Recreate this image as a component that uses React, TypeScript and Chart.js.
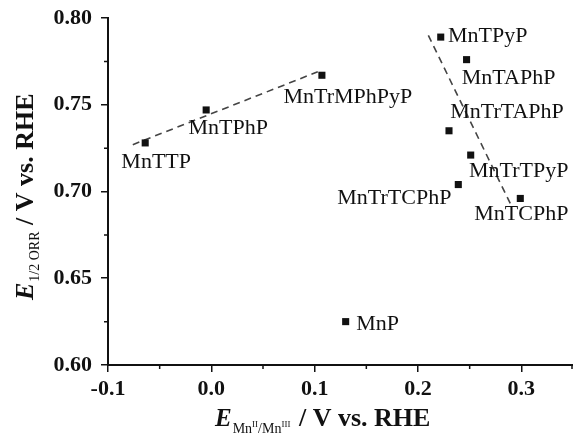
import React, { useEffect, useRef } from 'react';
import { Chart, registerables } from 'chart.js';
Chart.register(...registerables);

// ---- data ----
const compounds = ['MnTTP', 'MnTPhP', 'MnTrMPhPyP', 'MnTPyP', 'MnTAPhP', 'MnTrTAPhP', 'MnTrTPyP', 'MnTrTCPhP', 'MnTCPhP', 'MnP'];
const eMnRedox = [-0.064, -0.005, 0.107, 0.222, 0.247, 0.230, 0.251, 0.239, 0.299, 0.130];
const eHalfOrr = [0.728, 0.747, 0.767, 0.789, 0.776, 0.735, 0.721, 0.704, 0.696, 0.625];
const trend1X = [-0.076, 0.103];
const trend1Y = [0.727, 0.769];
const trend2X = [0.210, 0.291];
const trend2Y = [0.790, 0.691];
const xMajorTicks = [-0.1, 0.0, 0.1, 0.2, 0.3];
const yMajorTicks = [0.6, 0.65, 0.7, 0.75, 0.8];
const xMinorTicks = [-0.05, 0.05, 0.15, 0.25, 0.35];
const yMinorTicks = [0.625, 0.675, 0.725, 0.775];

// label placement (pixel offsets of label centre from its point)
const labelOffsets: [number, number][] = [
  [11, 19], [22, 18], [26, 22], [47, -1], [42, 19], [58, -19], [48, 16], [-64, 14], [1, 16], [32, 3],
];

const SERIF = '"Liberation Serif", "Times New Roman", serif';

const labelPlugin = {
  id: 'pointLabels',
  afterDatasetsDraw(chart: any) {
    const ctx = chart.ctx;
    const meta = chart.getDatasetMeta(0);
    ctx.save();
    ctx.font = `22px ${SERIF}`;
    ctx.fillStyle = '#111';
    ctx.textAlign = 'center';
    ctx.textBaseline = 'middle';
    meta.data.forEach((el: any, i: number) => {
      const [dx, dy] = labelOffsets[i];
      ctx.fillText(compounds[i], el.x + dx, el.y + dy);
    });
    ctx.restore();
  },
};

const minorTickPlugin = {
  id: 'minorTicks',
  afterDraw(chart: any) {
    const ctx = chart.ctx;
    const xs = chart.scales.x;
    const ys = chart.scales.y;
    ctx.save();
    ctx.strokeStyle = '#111';
    ctx.lineWidth = 1.5;
    ctx.beginPath();
    xMinorTicks.forEach((v) => {
      const px = Math.min(xs.getPixelForValue(v), 572);
      ctx.moveTo(px, xs.top);
      ctx.lineTo(px, xs.top + 4);
    });
    yMinorTicks.forEach((v) => {
      const py = ys.getPixelForValue(v);
      ctx.moveTo(ys.right, py);
      ctx.lineTo(ys.right - 4, py);
    });
    ctx.stroke();
    ctx.restore();
  },
};

const titlePlugin = {
  id: 'axisTitles',
  afterDraw(chart: any) {
    const ctx = chart.ctx;
    ctx.save();
    ctx.fillStyle = '#111';
    ctx.textBaseline = 'alphabetic';
    ctx.textAlign = 'left';
    // x title
    let x = 215;
    const yb = 426;
    ctx.font = `italic bold 25px ${SERIF}`;
    ctx.fillText('E', x, yb);
    x += ctx.measureText('E').width + 1;
    const sub = (t: string, size: number, dy: number) => {
      ctx.font = `${size}px ${SERIF}`;
      ctx.fillText(t, x, yb + dy);
      x += ctx.measureText(t).width;
    };
    sub('Mn', 14, 7);
    sub('II', 9, 1);
    sub('/Mn', 14, 7);
    sub('III', 9, 1);
    x += 2;
    ctx.font = `bold 26px ${SERIF}`;
    ctx.fillText(' / V vs. RHE', x, yb);

    // y title (rotated)
    ctx.save();
    ctx.translate(33, 300);
    ctx.rotate(-Math.PI / 2);
    let t = 0;
    ctx.font = `italic bold 26px ${SERIF}`;
    ctx.fillText('E', t, 0);
    t += ctx.measureText('E').width + 1;
    ctx.font = `14px ${SERIF}`;
    ctx.fillText('1/2 ORR', t, 6);
    t += ctx.measureText('1/2 ORR').width;
    ctx.font = `bold 26px ${SERIF}`;
    ctx.fillText(' / V vs. RHE', t, 0);
    ctx.restore();
    ctx.restore();
  },
};

export default function App() {
  const ref = useRef<HTMLCanvasElement>(null);
  useEffect(() => {
    document.body.style.margin = '0';
    const canvas = ref.current!;
    const chart = new Chart(canvas, {
      type: 'scatter',
      data: {
        datasets: [
          {
            label: 'complexes',
            data: eMnRedox.map((v, i) => ({ x: v, y: eHalfOrr[i] })),
            pointStyle: 'rect',
            pointRadius: 5,
            backgroundColor: '#111',
            borderColor: '#111',
            borderWidth: 0,
          },
          {
            label: 'trend 1',
            type: 'line',
            data: trend1X.map((v, i) => ({ x: v, y: trend1Y[i] })),
            borderColor: '#444',
            borderWidth: 1.6,
            borderDash: [7, 5],
            pointRadius: 0,
            fill: false,
          },
          {
            label: 'trend 2',
            type: 'line',
            data: trend2X.map((v, i) => ({ x: v, y: trend2Y[i] })),
            borderColor: '#444',
            borderWidth: 1.6,
            borderDash: [7, 5],
            pointRadius: 0,
            fill: false,
          },
        ],
      },
      options: {
        responsive: false,
        animation: false,
        events: [],
        layout: { padding: { top: 18, right: 0, left: 0, bottom: 0 } },
        plugins: { legend: { display: false }, tooltip: { enabled: false } },
        scales: {
          x: {
            type: 'linear',
            min: -0.1,
            max: 0.35,
            afterBuildTicks: (s: any) => { s.ticks = xMajorTicks.map((v) => ({ value: v })); },
            afterFit: (s: any) => { s.height = 69; },
            border: { display: true, color: '#111', width: 2 },
            grid: { drawOnChartArea: false, drawTicks: true, tickLength: 7, lineWidth: 1.5, color: '#111' },
            ticks: {
              autoSkip: false,
              maxRotation: 0,
              padding: 4,
              color: '#111',
              font: { family: SERIF, size: 22, weight: 'bold' },
              callback: (v: any) => Number(v).toFixed(1),
            },
          },
          y: {
            type: 'linear',
            min: 0.6,
            max: 0.8,
            afterBuildTicks: (s: any) => { s.ticks = yMajorTicks.map((v) => ({ value: v })); },
            afterFit: (s: any) => { s.width = 108; },
            border: { display: true, color: '#111', width: 2 },
            grid: { drawOnChartArea: false, drawTicks: true, tickLength: 7, lineWidth: 1.5, color: '#111' },
            ticks: {
              padding: 9,
              color: '#111',
              font: { family: SERIF, size: 22, weight: 'bold', lineHeight: 0.8 },
              callback: (v: any) => Number(v).toFixed(2),
            },
          },
        },
      },
      plugins: [labelPlugin, minorTickPlugin, titlePlugin],
    } as any);
    return () => chart.destroy();
  }, []);
  return (
    <div style={{ width: 573, height: 434, overflow: 'hidden' }}>
      <canvas ref={ref} width={578} height={434} style={{ display: 'block' }} />
    </div>
  );
}
